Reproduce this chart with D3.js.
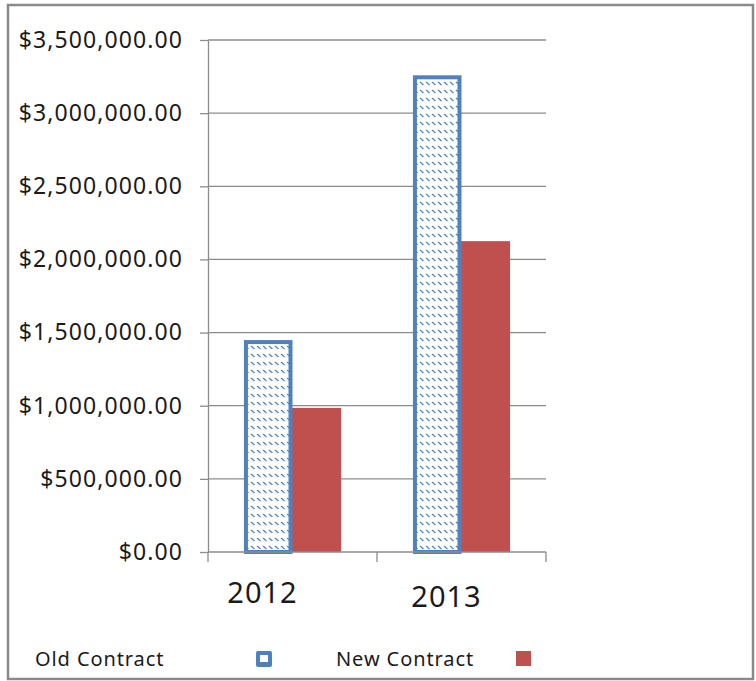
<!DOCTYPE html>
<html lang="en">
<head>
  <meta charset="UTF-8">
  <title>Old vs New Contract</title>
  <script src="https://d3js.org/d3.v7.min.js"></script>
  <style>
    body { margin: 0; background: #fff; }
    text { font-family: "Noto Sans", "Open Sans", sans-serif; fill: #1a1a1a; }
  </style>
</head>
<body>
  <svg width="756" height="681"></svg>
  <script>
    // data
    const years = ["2012", "2013"];
    const series = ["Old Contract", "New Contract"];
    const oldContract = [1435000, 3245000];
    const newContract = [985000, 2125000];
    const yTicks = [0, 500000, 1000000, 1500000, 2000000, 2500000, 3000000, 3500000];

    const blue = "#4F81BD", red = "#C0504D", grid = "#8c8c8c";

    const svg = d3.select("svg");

    // outer frame
    svg.append("rect")
      .attr("x", 8).attr("y", 5).attr("width", 745).attr("height", 674)
      .attr("fill", "none").attr("stroke", "#8a8a8a").attr("stroke-width", 2.5);

    // hatch pattern for old contract bars
    const defs = svg.append("defs");
    const pat = defs.append("pattern")
      .attr("id", "hatch").attr("patternUnits", "userSpaceOnUse")
      .attr("width", 6).attr("height", 8);
    pat.append("rect").attr("width", 6).attr("height", 8).attr("fill", "#fff");
    pat.append("line")
      .attr("x1", 1).attr("y1", 2).attr("x2", 4.5).attr("y2", 5)
      .attr("stroke", blue).attr("stroke-width", 1.2);

    const plotLeft = 208, plotRight = 546, plotTop = 40, plotBottom = 552;

    const y = d3.scaleLinear().domain([0, 3500000]).range([plotBottom, plotTop]);
    const x0 = d3.scaleBand().domain(years).range([plotLeft, plotRight]).padding(0);
    const x1 = d3.scaleBand().domain(series).range([0, x0.bandwidth()])
      .paddingInner(0).paddingOuter(0.74);

    // gridlines
    svg.append("g")
      .selectAll("line")
      .data(yTicks.filter(d => d > 0))
      .join("line")
      .attr("x1", plotLeft).attr("x2", plotRight)
      .attr("y1", d => y(d)).attr("y2", d => y(d))
      .attr("stroke", grid).attr("stroke-width", 1.3);

    // y axis
    const yAxis = svg.append("g")
      .attr("transform", `translate(${plotLeft},0)`)
      .call(d3.axisLeft(y).tickValues(yTicks).tickFormat(d3.format("$,.2f"))
        .tickSize(8).tickSizeOuter(0).tickPadding(17));
    yAxis.select(".domain").attr("stroke", grid).attr("stroke-width", 1.3);
    yAxis.selectAll(".tick line").attr("stroke", grid).attr("stroke-width", 1.3);
    yAxis.selectAll("text")
      .style("font-size", "23px").style("letter-spacing", "1.1px")
      .attr("fill", "#1a1a1a");

    // bars
    const rows = years.map((yr, i) => ({ year: yr, "Old Contract": oldContract[i], "New Contract": newContract[i] }));
    const groups = svg.append("g").selectAll("g")
      .data(rows)
      .join("g")
      .attr("transform", d => `translate(${x0(d.year)},0)`);

    groups.append("rect")
      .attr("x", x1("New Contract") - 1)
      .attr("width", x1.bandwidth() + 1)
      .attr("y", d => y(d["New Contract"]))
      .attr("height", d => plotBottom - y(d["New Contract"]))
      .attr("fill", red);

    groups.append("rect")
      .attr("x", x1("Old Contract") + 2)
      .attr("width", x1.bandwidth() - 4)
      .attr("y", d => y(d["Old Contract"]))
      .attr("height", d => plotBottom - y(d["Old Contract"]))
      .attr("fill", "url(#hatch)")
      .attr("stroke", blue).attr("stroke-width", 4);

    // x axis
    svg.append("line")
      .attr("x1", plotLeft).attr("x2", plotRight).attr("y1", plotBottom).attr("y2", plotBottom)
      .attr("stroke", grid).attr("stroke-width", 1.3);
    const bounds = years.map(d => x0(d)).concat([x0(years[years.length - 1]) + x0.bandwidth()]);
    svg.append("g").selectAll("line")
      .data(bounds)
      .join("line")
      .attr("x1", d => d).attr("x2", d => d)
      .attr("y1", plotBottom).attr("y2", plotBottom + 10)
      .attr("stroke", grid).attr("stroke-width", 1.3);

    // category labels sit a little left of their band centres in the original
    const labelNudge = [-30, -15];
    svg.append("g").selectAll("text")
      .data(years)
      .join("text")
      .attr("x", (d, i) => x0(d) + x0.bandwidth() / 2 + labelNudge[i])
      .attr("y", (d, i) => 603 + i * 4)
      .attr("text-anchor", "middle")
      .style("font-size", "29px").style("letter-spacing", "1px")
      .text(d => d);

    // legend
    const legend = svg.append("g").style("font-size", "20px").style("letter-spacing", "0.9px");
    legend.append("text").attr("x", 35).attr("y", 666).text(series[0]);
    legend.append("rect").attr("x", 256).attr("y", 651).attr("width", 16).attr("height", 16)
      .attr("rx", 2).attr("fill", blue);
    legend.append("rect").attr("x", 260).attr("y", 655).attr("width", 8).attr("height", 7)
      .attr("fill", "#fff");
    legend.append("text").attr("x", 336).attr("y", 666).text(series[1]);
    legend.append("rect").attr("x", 516).attr("y", 651).attr("width", 15).attr("height", 15)
      .attr("fill", red);
  </script>
</body>
</html>
